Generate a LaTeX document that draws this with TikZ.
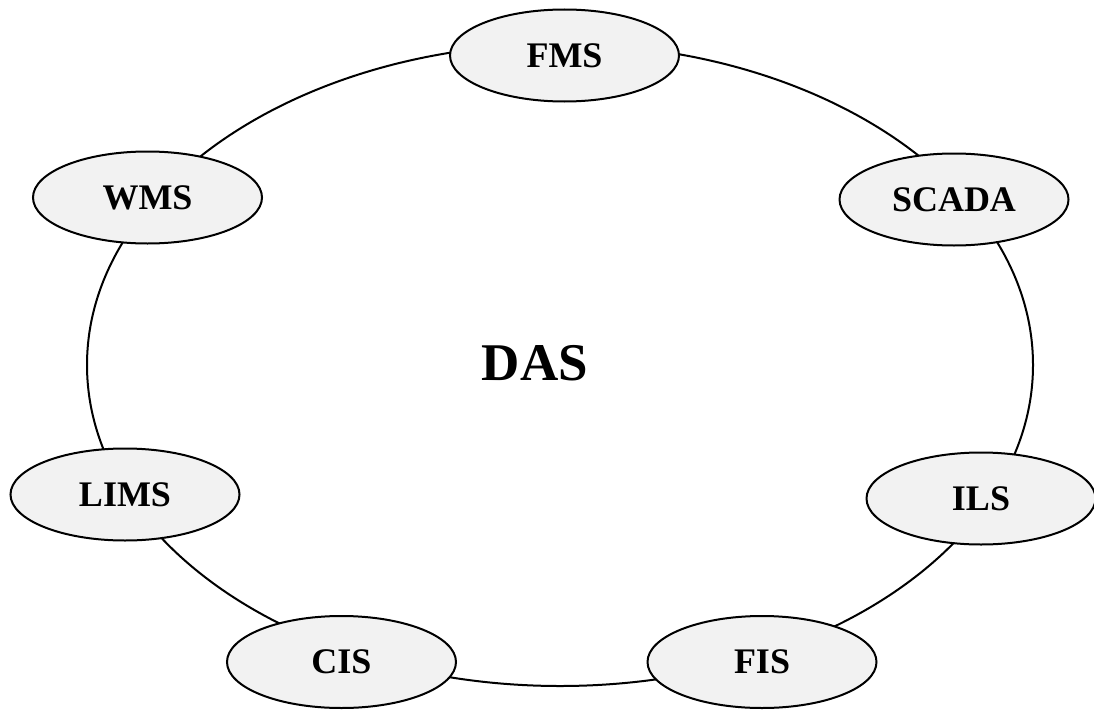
\documentclass[tikz,border=0pt]{standalone}
\usepackage{fontspec}
\setmainfont{Liberation Serif}
\usetikzlibrary{shapes.geometric}
\definecolor{sysfill}{HTML}{F2F2F2}
\tikzset{
  sysnode/.style={ellipse, draw=black, line width=2pt, fill=sysfill,
    minimum width=229pt, minimum height=92pt, inner sep=0pt,
    font=\fontsize{36}{40}\selectfont\bfseries},
  ring/.style={draw=black, line width=2pt}
}
\begin{document}
\begin{tikzpicture}[x=1pt,y=-1pt]
\useasboundingbox (0,0) rectangle (1094,709);
\draw[ring] (560,365) ellipse [x radius=473, y radius=321];
\node[font=\fontsize{53}{60}\selectfont\bfseries] (das) at (535,363) {DAS};
\node[sysnode] (fms) at (564.5,55.5) {FMS};
\node[sysnode] (wms) at (147.5,197.5) {WMS};
\node[sysnode] (scada) at (954,199.5) {SCADA};
\node[sysnode] (lims) at (125,494.5) {LIMS};
\node[sysnode] (ils) at (981,498.5) {ILS};
\node[sysnode] (cis) at (341.5,662) {CIS};
\node[sysnode] (fis) at (762,662) {FIS};
\end{tikzpicture}
\end{document}
